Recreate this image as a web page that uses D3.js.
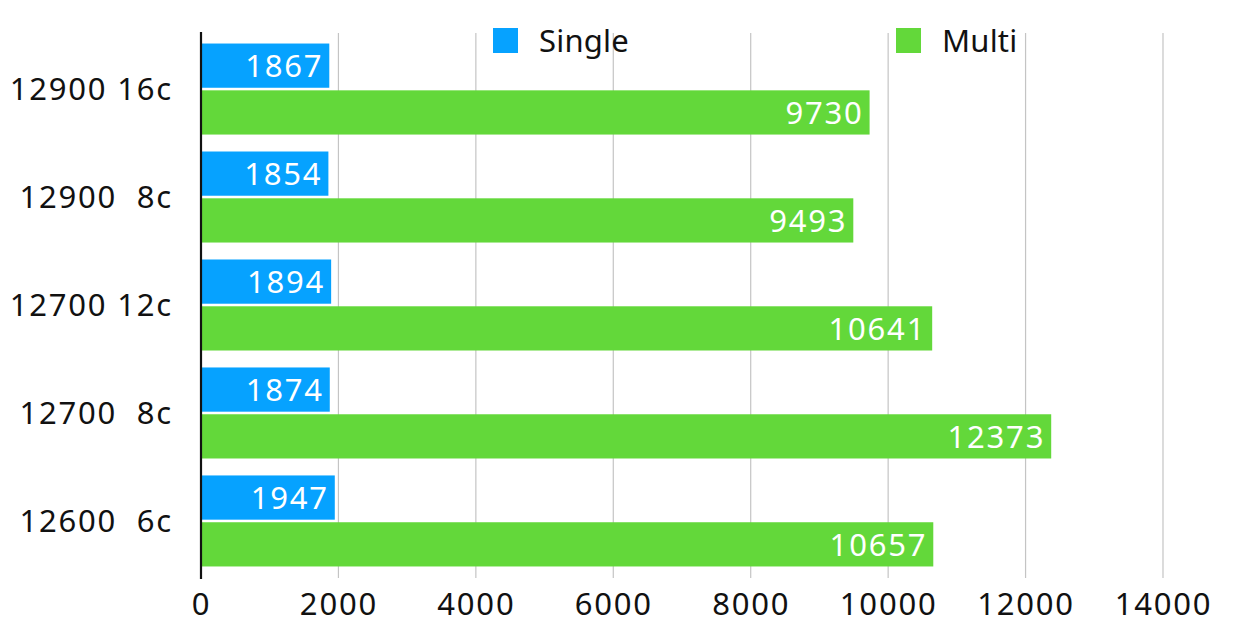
<!DOCTYPE html>
<html>
<head>
<meta charset="utf-8">
<script src="https://cdn.jsdelivr.net/npm/d3@7"></script>
<style>
  body { margin: 0; background: #fff; }
  text { font-family: "Noto Sans", "DejaVu Sans", sans-serif; }
</style>
</head>
<body>
<div id="chart"></div>
<script>
const categories = ['12900 16c', '12900  8c', '12700 12c', '12700  8c', '12600  6c'];
const singleValues = [1867, 1854, 1894, 1874, 1947];
const multiValues = [9730, 9493, 10641, 12373, 10657];
const xTicks = [0, 2000, 4000, 6000, 8000, 10000, 12000, 14000];
const seriesNames = ['Single', 'Multi'];
const seriesColors = ['#06a2ff', '#63d83a'];

const width = 1248;
const height = 644;
const margin = { top: 35, right: 85, bottom: 69, left: 201 };
const innerW = width - margin.left - margin.right;
const innerH = height - margin.top - margin.bottom;
const fontSize = '31px';
const spacing = '1.8px';

const svg = d3.select('#chart')
  .append('svg')
  .attr('width', width)
  .attr('height', height);

const g = svg.append('g')
  .attr('transform', `translate(${margin.left},${margin.top})`);

const x = d3.scaleLinear().domain([0, 14000]).range([0, innerW]);
const y = d3.scaleBand().domain(categories).range([0, innerH]).paddingInner(0.157).paddingOuter(0.079);
const ySub = d3.scaleBand().domain(seriesNames).range([0, y.bandwidth()]).paddingInner(0.055);

// grid lines
g.append('g')
  .selectAll('line')
  .data(xTicks.slice(1))
  .join('line')
  .attr('x1', (d) => x(d))
  .attr('x2', (d) => x(d))
  .attr('y1', -2)
  .attr('y2', innerH + 3)
  .attr('stroke', '#c4c4c4')
  .attr('stroke-width', 1.2);

// bars
const rows = categories.map((c, i) => ({ cat: c, values: [singleValues[i], multiValues[i]] }));

const group = g.selectAll('.grp')
  .data(rows)
  .join('g')
  .attr('class', 'grp')
  .attr('transform', (d) => `translate(0,${y(d.cat)})`);

group.selectAll('rect')
  .data((d) => d.values.map((v, j) => ({ name: seriesNames[j], v, j })))
  .join('rect')
  .attr('x', x(0))
  .attr('y', (d) => ySub(d.name))
  .attr('width', (d) => x(d.v) - x(0))
  .attr('height', ySub.bandwidth())
  .attr('fill', (d) => seriesColors[d.j]);

group.selectAll('.val')
  .data((d) => d.values.map((v, j) => ({ name: seriesNames[j], v })))
  .join('text')
  .attr('class', 'val')
  .attr('x', (d) => x(d.v) - 6)
  .attr('y', (d) => ySub(d.name) + ySub.bandwidth() / 2)
  .attr('dy', '0.36em')
  .attr('text-anchor', 'end')
  .attr('fill', '#fff')
  .style('font-size', fontSize)
  .style('letter-spacing', spacing)
  .text((d) => d.v);

// category labels
g.selectAll('.cat')
  .data(categories)
  .join('text')
  .attr('class', 'cat')
  .attr('x', -28)
  .attr('y', (d) => y(d) + y.bandwidth() / 2)
  .attr('dy', '0.36em')
  .attr('text-anchor', 'end')
  .attr('fill', '#111')
  .style('font-size', fontSize)
  .style('letter-spacing', spacing)
  .style('white-space', 'pre')
  .text((d) => d);

// x axis
const xAxis = d3.axisBottom(x).tickValues(xTicks).tickSize(0).tickPadding(18).tickFormat(d3.format('d'));
const ax = g.append('g')
  .attr('transform', `translate(0,${innerH})`)
  .call(xAxis);
ax.select('.domain').remove();
ax.selectAll('text')
  .attr('fill', '#111')
  .style('font-size', fontSize)
  .style('letter-spacing', spacing)
  .style('font-family', '"Noto Sans", sans-serif');

// y axis line
g.append('line')
  .attr('x1', 0)
  .attr('x2', 0)
  .attr('y1', -3)
  .attr('y2', innerH + 4)
  .attr('stroke', '#111')
  .attr('stroke-width', 2.2);

// legend
const legendX = [493, 896];
const legend = svg.selectAll('.leg')
  .data(seriesNames)
  .join('g')
  .attr('class', 'leg')
  .attr('transform', (d, i) => `translate(${legendX[i]},28)`);
legend.append('rect')
  .attr('width', 25)
  .attr('height', 25)
  .attr('fill', (d, i) => seriesColors[i]);
legend.append('text')
  .attr('x', 46)
  .attr('y', 13)
  .attr('dy', '0.36em')
  .attr('fill', '#111')
  .style('font-size', fontSize)
  .style('letter-spacing', '0.2px')
  .text((d) => d);
</script>
</body>
</html>
